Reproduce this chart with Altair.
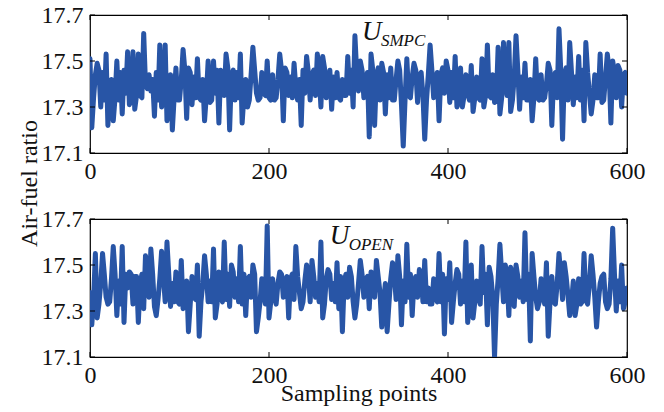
import altair as alt
import pandas as pd

# ---------------- data ----------------
samples = list(range(0, 601, 2))

u_smpc = [
    17.51, 17.21, 17.34, 17.44, 17.49, 17.46, 17.30, 17.45, 17.33, 17.53, 17.22, 17.35,
    17.42, 17.24, 17.34, 17.50, 17.33, 17.45, 17.27, 17.46, 17.36, 17.54, 17.31, 17.33,
    17.54, 17.29, 17.35, 17.53, 17.35, 17.34, 17.62, 17.40, 17.38, 17.44, 17.37, 17.42,
    17.26, 17.45, 17.33, 17.57, 17.30, 17.35, 17.57, 17.24, 17.33, 17.44, 17.20, 17.34,
    17.47, 17.33, 17.33, 17.42, 17.55, 17.46, 17.25, 17.47, 17.45, 17.31, 17.43, 17.34,
    17.51, 17.34, 17.33, 17.42, 17.24, 17.35, 17.50, 17.32, 17.33, 17.50, 17.36, 17.46,
    17.23, 17.46, 17.45, 17.35, 17.53, 17.47, 17.20, 17.44, 17.46, 17.33, 17.45, 17.34,
    17.53, 17.23, 17.35, 17.42, 17.30, 17.33, 17.44, 17.56, 17.46, 17.36, 17.33, 17.34,
    17.45, 17.36, 17.35, 17.50, 17.34, 17.33, 17.44, 17.33, 17.34, 17.42, 17.53, 17.46,
    17.24, 17.47, 17.45, 17.35, 17.43, 17.34, 17.49, 17.38, 17.33, 17.42, 17.22, 17.46,
    17.36, 17.52, 17.45, 17.33, 17.44, 17.46, 17.35, 17.53, 17.45, 17.30, 17.52, 17.47,
    17.34, 17.43, 17.46, 17.29, 17.43, 17.34, 17.45, 17.34, 17.33, 17.42, 17.35, 17.35,
    17.52, 17.36, 17.46, 17.30, 17.61, 17.45, 17.37, 17.50, 17.46, 17.34, 17.42, 17.45,
    17.17, 17.53, 17.46, 17.22, 17.43, 17.47, 17.33, 17.49, 17.45, 17.27, 17.44, 17.34,
    17.47, 17.33, 17.33, 17.42, 17.50, 17.46, 17.31, 17.13, 17.33, 17.51, 17.35, 17.34,
    17.43, 17.49, 17.46, 17.32, 17.44, 17.45, 17.35, 17.16, 17.33, 17.44, 17.57, 17.46,
    17.34, 17.42, 17.45, 17.24, 17.44, 17.47, 17.36, 17.50, 17.46, 17.32, 17.45, 17.34,
    17.52, 17.30, 17.33, 17.47, 17.30, 17.35, 17.44, 17.36, 17.33, 17.48, 17.28, 17.34,
    17.43, 17.34, 17.33, 17.51, 17.30, 17.35, 17.57, 17.35, 17.34, 17.44, 17.32, 17.33,
    17.56, 17.27, 17.34, 17.58, 17.40, 17.35, 17.58, 17.28, 17.33, 17.43, 17.61, 17.46,
    17.29, 17.43, 17.34, 17.49, 17.33, 17.33, 17.42, 17.24, 17.34, 17.51, 17.34, 17.33,
    17.44, 17.33, 17.34, 17.40, 17.49, 17.46, 17.22, 17.43, 17.45, 17.34, 17.64, 17.46,
    17.16, 17.44, 17.47, 17.33, 17.58, 17.45, 17.31, 17.43, 17.34, 17.52, 17.33, 17.46,
    17.24, 17.58, 17.45, 17.36, 17.27, 17.33, 17.44, 17.34, 17.34, 17.53, 17.32, 17.33,
    17.43, 17.53, 17.46, 17.23, 17.50, 17.45, 17.34, 17.48, 17.46, 17.30, 17.44, 17.45,
    17.36,
]

u_open = [
    17.38, 17.24, 17.35, 17.55, 17.27, 17.33, 17.42, 17.55, 17.46, 17.36, 17.33, 17.34,
    17.44, 17.58, 17.46, 17.28, 17.43, 17.33, 17.58, 17.25, 17.46, 17.40, 17.47, 17.46,
    17.33, 17.45, 17.45, 17.25, 17.42, 17.46, 17.31, 17.54, 17.47, 17.36, 17.57, 17.46,
    17.32, 17.28, 17.35, 17.44, 17.56, 17.45, 17.34, 17.60, 17.46, 17.32, 17.42, 17.34,
    17.47, 17.34, 17.33, 17.52, 17.31, 17.34, 17.43, 17.21, 17.33, 17.45, 17.36, 17.35,
    17.50, 17.19, 17.34, 17.42, 17.54, 17.46, 17.34, 17.43, 17.34, 17.57, 17.27, 17.33,
    17.47, 17.36, 17.34, 17.60, 17.35, 17.46, 17.32, 17.50, 17.47, 17.36, 17.44, 17.34,
    17.58, 17.33, 17.46, 17.28, 17.44, 17.45, 17.36, 17.50, 17.46, 17.21, 17.27, 17.34,
    17.44, 17.38, 17.33, 17.67, 17.27, 17.34, 17.44, 17.36, 17.33, 17.42, 17.47, 17.46,
    17.36, 17.43, 17.45, 17.27, 17.44, 17.46, 17.35, 17.58, 17.45, 17.38, 17.31, 17.34,
    17.43, 17.50, 17.46, 17.34, 17.52, 17.45, 17.36, 17.42, 17.34, 17.60, 17.27, 17.33,
    17.44, 17.48, 17.46, 17.35, 17.42, 17.34, 17.51, 17.31, 17.45, 17.21, 17.43, 17.46,
    17.36, 17.49, 17.45, 17.34, 17.27, 17.33, 17.42, 17.52, 17.46, 17.36, 17.44, 17.45,
    17.31, 17.47, 17.46, 17.36, 17.52, 17.45, 17.38, 17.23, 17.34, 17.42, 17.21, 17.33,
    17.44, 17.51, 17.46, 17.35, 17.54, 17.45, 17.24, 17.43, 17.34, 17.59, 17.36, 17.46,
    17.28, 17.43, 17.45, 17.36, 17.48, 17.46, 17.34, 17.52, 17.34, 17.40, 17.33, 17.33,
    17.44, 17.36, 17.34, 17.55, 17.34, 17.46, 17.20, 17.44, 17.35, 17.51, 17.25, 17.34,
    17.42, 17.48, 17.46, 17.33, 17.43, 17.34, 17.60, 17.25, 17.33, 17.50, 17.27, 17.34,
    17.43, 17.36, 17.33, 17.58, 17.38, 17.46, 17.24, 17.49, 17.45, 17.36, 17.10, 17.33,
    17.44, 17.59, 17.46, 17.34, 17.50, 17.45, 17.28, 17.49, 17.46, 17.32, 17.50, 17.45,
    17.36, 17.43, 17.34, 17.64, 17.35, 17.46, 17.17, 17.55, 17.45, 17.36, 17.31, 17.34,
    17.44, 17.38, 17.33, 17.51, 17.19, 17.34, 17.45, 17.34, 17.33, 17.42, 17.55, 17.46,
    17.35, 17.51, 17.45, 17.37, 17.28, 17.34, 17.43, 17.28, 17.33, 17.44, 17.33, 17.34,
    17.55, 17.35, 17.33, 17.42, 17.54, 17.46, 17.36, 17.23, 17.34, 17.42, 17.45, 17.46,
    17.34, 17.31, 17.33, 17.44, 17.66, 17.46, 17.30, 17.43, 17.34, 17.50, 17.31, 17.34,
    17.40,
]

y_ticks = [17.1, 17.3, 17.5, 17.7]
x_ticks = [0, 200, 400, 600]
x_domain = [0, 600]
y_domain = [17.1, 17.7]

labels_main = ["U", "U"]
labels_sub = ["SMPC", "OPEN"]
label_main_x = [304, 268]
label_sub_x = [325, 289]
label_main_y = [17.59, 17.59]
label_sub_y = [17.565, 17.565]

# ---------------- styling ----------------
W, H = 537, 138
LINE = "#2855A6"
FONT = "Liberation Serif"
INK = "#111111"


def panel(vals, idx, xtitle, ytitle):
    df = pd.DataFrame({"s": samples, "v": vals})
    xs = alt.Scale(domain=x_domain, nice=False, zero=False)
    ys = alt.Scale(domain=y_domain, nice=False, zero=False)

    xaxis = alt.Axis(
        values=x_ticks, ticks=False, domain=False, grid=False,
        labelFlush=False, labelPadding=25, labelBaseline="alphabetic",
        labelFont=FONT, labelFontSize=24, labelColor=INK,
        titleFont=FONT, titleFontSize=24, titleFontWeight="normal",
        titleColor=INK, titleBaseline="alphabetic", titleY=43,
    )
    yaxis = alt.Axis(
        values=y_ticks, ticks=False, domain=False, grid=False,
        labelFlush=False, labelPadding=7, labelBaseline="middle",
        labelFont=FONT, labelFontSize=24, labelColor=INK, format=".1f",
        titleFont=FONT, titleFontSize=24, titleFontWeight="normal",
        titleColor=INK, titleAngle=270, titleBaseline="alphabetic",
        titleX=-54, titleY=168,
    )

    def X(field="s:Q"):
        return alt.X(field, scale=xs, axis=xaxis, title=xtitle)

    def Y(field="v:Q"):
        return alt.Y(field, scale=ys, axis=yaxis, title=ytitle)

    line = alt.Chart(df).mark_line(
        color=LINE, strokeWidth=5, strokeJoin="round", strokeCap="round", clip=True
    ).encode(x=X(), y=Y())

    main = pd.DataFrame({"s": [label_main_x[idx]], "v": [label_main_y[idx]], "t": [labels_main[idx]]})
    sub = pd.DataFrame({"s": [label_sub_x[idx]], "v": [label_sub_y[idx]], "t": [labels_sub[idx]]})
    t_main = alt.Chart(main).mark_text(
        font=FONT, fontStyle="italic", fontSize=27, align="left",
        baseline="alphabetic", color=INK
    ).encode(x=X(), y=Y(), text="t:N")
    t_sub = alt.Chart(sub).mark_text(
        font=FONT, fontStyle="italic", fontSize=17, align="left",
        baseline="alphabetic", color=INK
    ).encode(x=X(), y=Y(), text="t:N")

    yt = pd.DataFrame({"v": y_ticks})
    xt = pd.DataFrame({"s": x_ticks})
    tick_l = alt.Chart(yt).mark_rule(color="black", strokeWidth=1).encode(
        y=Y(), x=alt.value(0), x2=alt.value(5))
    tick_r = alt.Chart(yt).mark_rule(color="black", strokeWidth=1).encode(
        y=Y(), x=alt.value(W - 5), x2=alt.value(W))
    tick_b = alt.Chart(xt).mark_rule(color="black", strokeWidth=1).encode(
        x=X(), y=alt.value(H), y2=alt.value(H - 5))
    tick_t = alt.Chart(xt).mark_rule(color="black", strokeWidth=1).encode(
        x=X(), y=alt.value(0), y2=alt.value(5))

    return alt.layer(line, t_main, t_sub, tick_l, tick_r, tick_b, tick_t).properties(width=W, height=H)


top = panel(u_smpc, 0, None, "Air-fuel ratio")
bottom = panel(u_open, 1, "Sampling points", None)

chart = alt.vconcat(top, bottom, spacing=66, bounds="flush").properties(
    padding={"left": 16, "top": 2, "right": 5, "bottom": 5},
    background="white",
).configure_view(stroke="black", strokeWidth=1.2)

chart.save("out.html", embed_options={"renderer": "svg", "actions": False})
